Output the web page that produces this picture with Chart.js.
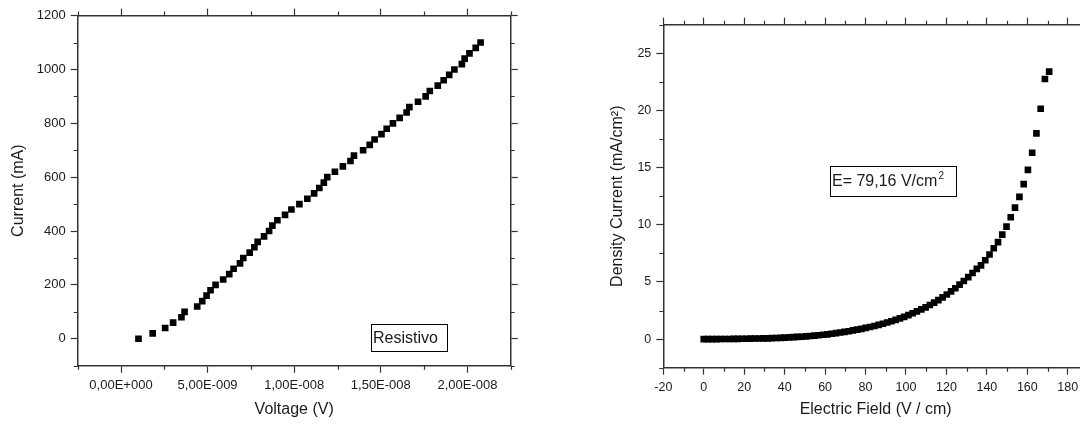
<!DOCTYPE html>
<html>
<head>
<meta charset="utf-8">
<script src="https://cdn.jsdelivr.net/npm/chart.js@4.4.0/dist/chart.umd.min.js"></script>
<style>
html, body { margin: 0; padding: 0; background: #fff; overflow: hidden; width: 1080px; height: 428px; }
#leftChart { position: absolute; left: 0; top: 0; }
#rightChart { position: absolute; left: 540px; top: 0; }
</style>
</head>
<body>
<canvas id="leftChart" width="540" height="428"></canvas>
<canvas id="rightChart" width="560" height="428"></canvas>
<script>
// left plot: Resistivo (current steps of 20 mA)
var voltage = [1.01e-9, 1.83e-9, 2.55e-9, 3.01e-9, 3.49e-9, 3.67e-9, 4.40e-9, 4.69e-9, 4.94e-9, 5.17e-9,
    5.46e-9, 5.90e-9, 6.25e-9, 6.50e-9, 6.87e-9, 7.06e-9, 7.43e-9, 7.70e-9, 7.89e-9, 8.26e-9,
    8.55e-9, 8.74e-9, 9.03e-9, 9.47e-9, 9.84e-9, 1.030e-8, 1.076e-8, 1.115e-8, 1.145e-8, 1.171e-8,
    1.191e-8, 1.235e-8, 1.281e-8, 1.325e-8, 1.345e-8, 1.398e-8, 1.436e-8, 1.464e-8, 1.504e-8, 1.534e-8,
    1.570e-8, 1.609e-8, 1.649e-8, 1.665e-8, 1.715e-8, 1.759e-8, 1.783e-8, 1.829e-8, 1.863e-8, 1.895e-8,
    1.925e-8, 1.968e-8, 1.984e-8, 2.012e-8, 2.048e-8, 2.076e-8];
var current = [0, 20, 40, 60, 80, 100, 120, 140, 160, 180,
    200, 220, 240, 260, 280, 300, 320, 340, 360, 380,
    400, 420, 440, 460, 480, 500, 520, 540, 560, 580,
    600, 620, 640, 660, 680, 700, 720, 740, 760, 780,
    800, 820, 840, 860, 880, 900, 920, 940, 960, 980,
    1000, 1020, 1040, 1060, 1080, 1100];
var voltTicks = [0, 5e-9, 1e-8, 1.5e-8, 2e-8];
var voltTickLabels = ["0,00E+000", "5,00E-009", "1,00E-008", "1,50E-008", "2,00E-008"];
var currentTicks = [0, 200, 400, 600, 800, 1000, 1200];
var currentTickLabels = ["0", "200", "400", "600", "800", "1000", "1200"];

// right plot: density current vs electric field
var field = [0, 2.1, 4.2, 6.3, 8.4, 10.5, 12.7, 14.8, 16.9, 19.0,
    21.1, 23.2, 25.3, 27.4, 29.5, 31.6, 33.7, 35.9, 38.0, 40.1,
    42.2, 44.3, 46.4, 48.5, 50.6, 52.7, 54.8, 56.9, 59.1, 61.2,
    63.3, 65.4, 67.5, 69.6, 71.7, 73.8, 75.9, 78.0, 80.1, 82.2,
    84.4, 86.5, 88.6, 90.7, 92.8, 94.9, 97.0, 99.1, 101.2, 103.3,
    105.4, 107.6, 109.7, 111.8, 113.9, 116.0, 118.1, 120.2, 122.3, 124.4,
    126.5, 128.6, 130.8, 132.9, 135.0, 137.1, 139.2, 141.3, 143.4, 145.5,
    147.6, 149.7, 151.8, 153.9, 156.1, 158.2, 160.3, 162.4, 164.5, 166.6,
    168.7, 170.8];
var density = [0.00, 0.00, 0.00, 0.00, 0.01, 0.01, 0.01, 0.02, 0.02, 0.03,
    0.03, 0.04, 0.05, 0.05, 0.06, 0.07, 0.09, 0.10, 0.11, 0.13,
    0.15, 0.17, 0.19, 0.21, 0.24, 0.27, 0.30, 0.34, 0.38, 0.42,
    0.47, 0.52, 0.58, 0.63, 0.69, 0.76, 0.83, 0.90, 0.98, 1.06,
    1.15, 1.24, 1.34, 1.45, 1.56, 1.68, 1.81, 1.95, 2.10, 2.26,
    2.42, 2.60, 2.78, 2.98, 3.19, 3.41, 3.65, 3.90, 4.17, 4.45,
    4.76, 5.08, 5.42, 5.78, 6.15, 6.45, 6.90, 7.40, 7.95, 8.48,
    9.14, 9.84, 10.66, 11.50, 12.44, 13.56, 14.80, 16.30, 18.00, 20.15,
    22.75, 23.40];
var fieldTicks = [-20, 0, 20, 40, 60, 80, 100, 120, 140, 160, 180];
var fieldTickLabels = ["-20", "0", "20", "40", "60", "80", "100", "120", "140", "160", "180"];
var densityTicks = [0, 5, 10, 15, 20, 25];
var densityTickLabels = ["0", "5", "10", "15", "20", "25"];

var AXIS_COLOR = "#333";
var TEXT_COLOR = "#1a1a1a";
var FONT = '"Liberation Sans", Arial, sans-serif';
Chart.defaults.font.family = FONT;

function toPoints(xs, ys) {
    var pts = [];
    for (var i = 0; i < xs.length; i++) {
        pts.push({x: xs[i], y: ys[i]});
    }
    return pts;
}

// one axis of the frame; labels == null means tick marks only
function makeAxis(position, min, max, ticks, labels, size, fontSize, title, titlePad) {
    return {
        type: "linear",
        position: position,
        min: min,
        max: max,
        afterBuildTicks: function(scale) {
            scale.ticks = ticks.map(function(v) { return {value: v}; });
        },
        afterFit: function(scale) {
            if (scale.isHorizontal()) scale.height = size;
            else scale.width = size;
        },
        border: {display: true, color: AXIS_COLOR, width: 1.5},
        grid: {drawOnChartArea: false, tickLength: 7, tickColor: AXIS_COLOR, tickWidth: 1.2},
        ticks: {
            display: labels !== null,
            autoSkip: false,
            maxRotation: 0,
            padding: 5,
            color: TEXT_COLOR,
            font: {size: fontSize},
            callback: function(v, i) { return labels ? labels[i] : ""; }
        },
        title: {
            display: !!title,
            text: title || "",
            color: TEXT_COLOR,
            font: {size: 16},
            padding: {top: titlePad, bottom: titlePad}
        }
    };
}

// minor ticks between the majors, outward from the frame
var minorTicks = {
    id: "minorTicks",
    afterDraw: function(chart, args, opts) {
        var ctx = chart.ctx;
        var area = chart.chartArea;
        ctx.save();
        ctx.strokeStyle = AXIS_COLOR;
        ctx.lineWidth = 1.2;
        ctx.beginPath();
        opts.axes.forEach(function(a) {
            var scale = chart.scales[a.id];
            var first = Math.ceil(scale.min / a.step - 1e-6);
            var last = Math.floor(scale.max / a.step + 1e-6);
            for (var k = first; k <= last; k++) {
                if (k % 2 === 0) continue;
                var p = Math.round(scale.getPixelForValue(k * a.step)) + 0.5;
                if (scale.position === "bottom") { ctx.moveTo(p, area.bottom); ctx.lineTo(p, area.bottom + 4); }
                if (scale.position === "top") { ctx.moveTo(p, area.top); ctx.lineTo(p, area.top - 4); }
                if (scale.position === "left") { ctx.moveTo(area.left, p); ctx.lineTo(area.left - 4, p); }
                if (scale.position === "right") { ctx.moveTo(area.right, p); ctx.lineTo(area.right + 4, p); }
            }
        });
        ctx.stroke();
        ctx.restore();
    }
};

// framed text label inside the plot
var textBox = {
    id: "textBox",
    afterDraw: function(chart, args, opts) {
        var ctx = chart.ctx;
        ctx.save();
        ctx.lineWidth = 1;
        ctx.strokeStyle = "#000";
        ctx.strokeRect(opts.x + 0.5, opts.y + 0.5, opts.w, opts.h);
        ctx.fillStyle = TEXT_COLOR;
        ctx.textBaseline = "middle";
        ctx.font = "16px " + FONT;
        ctx.fillText(opts.text, opts.x + 2, opts.y + opts.h / 2 + 1);
        if (opts.sup) {
            var w = ctx.measureText(opts.text).width;
            ctx.font = "10px " + FONT;
            ctx.fillText(opts.sup, opts.x + 3 + w, opts.y + opts.h / 2 - 5);
        }
        ctx.restore();
    }
};

function scatterSet(xs, ys) {
    return {
        data: toPoints(xs, ys),
        showLine: false,
        pointStyle: "rect",
        pointRadius: 4.7,
        pointHoverRadius: 4.7,
        pointBackgroundColor: "#000",
        pointBorderWidth: 0
    };
}

var leftChart = new Chart(document.getElementById("leftChart").getContext("2d"), {
    type: "scatter",
    data: {datasets: [scatterSet(voltage, current)]},
    plugins: [minorTicks, textBox],
    options: {
        responsive: false,
        animation: false,
        events: [],
        layout: {padding: 0},
        scales: {
            x: makeAxis("bottom", -2.5e-9, 2.25e-8, voltTicks, voltTickLabels, 62.3, 13, "Voltage (V)", 8.4),
            x2: makeAxis("top", -2.5e-9, 2.25e-8, voltTicks, null, 15.6, 13, null, 0),
            y: makeAxis("left", -100, 1200, currentTicks, currentTickLabels, 77.7, 13, "Current (mA)", 9),
            y2: makeAxis("right", -100, 1200, currentTicks, null, 29.3, 13, null, 0)
        },
        plugins: {
            legend: {display: false},
            tooltip: {enabled: false},
            minorTicks: {axes: [{id: "x", step: 2.5e-9}, {id: "x2", step: 2.5e-9}, {id: "y", step: 100}, {id: "y2", step: 100}]},
            textBox: {text: "Resistivo", x: 371, y: 324, w: 76, h: 27}
        }
    }
});

var rightChart = new Chart(document.getElementById("rightChart").getContext("2d"), {
    type: "scatter",
    data: {datasets: [scatterSet(field, density)]},
    plugins: [minorTicks, textBox],
    options: {
        responsive: false,
        animation: false,
        events: [],
        layout: {padding: {left: 60, right: 0, top: 0, bottom: 0}},
        scales: {
            x: makeAxis("bottom", -20, 190, fieldTicks, fieldTickLabels, 60.3, 12.5, "Electric Field (V / cm)", 8.4),
            x2: makeAxis("top", -20, 190, fieldTicks, null, 24.7, 12.5, null, 0),
            y: makeAxis("left", -2.5, 27.5, densityTicks, densityTickLabels, 63.3, 12.5, "Density Current (mA/cm²)", 7.5),
            y2: makeAxis("right", -2.5, 27.5, densityTicks, null, 12, 12.5, null, 0)
        },
        plugins: {
            legend: {display: false},
            tooltip: {enabled: false},
            minorTicks: {axes: [{id: "x", step: 10}, {id: "x2", step: 10}, {id: "y", step: 2.5}, {id: "y2", step: 2.5}]},
            textBox: {text: "E= 79,16 V/cm", sup: "2", x: 290, y: 166, w: 126, h: 30}
        }
    }
});
</script>
</body>
</html>
